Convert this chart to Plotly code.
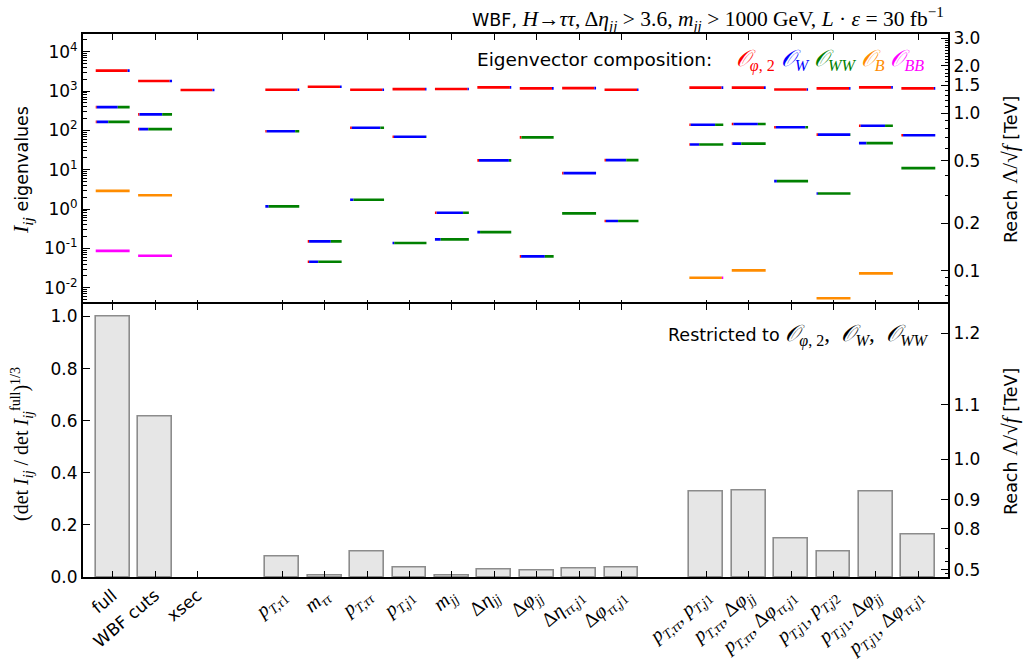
import math
import plotly.graph_objects as go

# ---------------- data ----------------
SERIF = "Liberation Serif"

def m(s, size=20):
    return f"<span style=\"font-family:'{SERIF}';font-size:{size}px\">{s}</span>"

group_labels = [
    ["full", "WBF cuts", "xsec"],
    [m("<i>p</i><sub><i>T,τ</i>1</sub>"), m("<i>m</i><sub><i>ττ</i></sub>"), m("<i>p</i><sub><i>T,ττ</i></sub>"),
     m("<i>p</i><sub><i>T,j</i>1</sub>"), m("<i>m</i><sub><i>jj</i></sub>"), m("Δ<i>η</i><sub><i>jj</i></sub>"),
     m("Δ<i>φ</i><sub><i>jj</i></sub>"), m("Δ<i>η</i><sub><i>ττ,j</i>1</sub>"), m("Δ<i>φ</i><sub><i>ττ,j</i>1</sub>")],
    [m("<i>p</i><sub><i>T,ττ</i></sub>, <i>p</i><sub><i>T,j</i>1</sub>"),
     m("<i>p</i><sub><i>T,ττ</i></sub>, Δ<i>φ</i><sub><i>jj</i></sub>"),
     m("<i>p</i><sub><i>T,ττ</i></sub>, Δ<i>φ</i><sub><i>ττ,j</i>1</sub>"),
     m("<i>p</i><sub><i>T,j</i>1</sub>, <i>p</i><sub><i>T,j</i>2</sub>"),
     m("<i>p</i><sub><i>T,j</i>1</sub>, Δ<i>φ</i><sub><i>jj</i></sub>"),
     m("<i>p</i><sub><i>T,j</i>1</sub>, Δ<i>φ</i><sub><i>ττ,j</i>1</sub>")],
]

# eigenvalues of I_ij per setup
eigenvalues = [
    [3300, 390, 165, 2.9, 0.087],
    [1800, 255, 108, 2.25, 0.065],
    [1060],
    [1080, 95, 1.17],
    [1290, 0.151, 0.0458],
    [1080, 117, 1.73],
    [1120, 69, 0.137],
    [1130, 0.81, 0.17],
    [1240, 17.3, 0.26],
    [1170, 66.5, 0.0627],
    [1190, 8.2, 0.78],
    [1080, 17.6, 0.50],
    [1220, 139, 44, 0.018],
    [1220, 145, 46, 0.0277],
    [1100, 120, 5.15, 0.0036],
    [1170, 78, 2.5, 0.0054],
    [1240, 131, 47.5, 0.0232],
    [1170, 75, 11.0],
]

# eigenvector composition (O_phi2, O_W, O_WW, O_B, O_BB)
compositions = [
    [(0.94, 0.06, 0, 0, 0), (0.03, 0.62, 0.35, 0, 0), (0.03, 0.34, 0.63, 0, 0), (0, 0, 0, 1, 0), (0, 0, 0, 0, 1)],
    [(0.93, 0.07, 0, 0, 0), (0.04, 0.67, 0.29, 0, 0), (0.03, 0.27, 0.70, 0, 0), (0, 0, 0, 1, 0), (0, 0, 0, 0, 1)],
    [(0.94, 0.06, 0, 0, 0)],
    [(0.95, 0.05, 0, 0, 0), (0.04, 0.84, 0.12, 0, 0), (0, 0.10, 0.90, 0, 0)],
    [(0.95, 0.05, 0, 0, 0), (0.04, 0.64, 0.32, 0, 0), (0.04, 0.27, 0.69, 0, 0)],
    [(0.95, 0.05, 0, 0, 0), (0.05, 0.84, 0.11, 0, 0), (0, 0.10, 0.90, 0, 0)],
    [(0.96, 0.04, 0, 0, 0), (0.04, 0.95, 0.01, 0, 0), (0, 0.05, 0.95, 0, 0)],
    [(0.96, 0.04, 0, 0, 0), (0.05, 0.78, 0.17, 0, 0), (0, 0.17, 0.83, 0, 0)],
    [(0.96, 0.04, 0, 0, 0), (0.05, 0.88, 0.07, 0, 0), (0, 0.08, 0.92, 0, 0)],
    [(0.95, 0.05, 0, 0, 0), (0.05, 0, 0.95, 0, 0), (0.04, 0.70, 0.26, 0, 0)],
    [(0.95, 0.05, 0, 0, 0), (0.04, 0.96, 0, 0, 0), (0, 0, 1, 0, 0)],
    [(0.96, 0.04, 0, 0, 0), (0.04, 0.60, 0.36, 0, 0), (0.04, 0.36, 0.60, 0, 0)],
    [(0.95, 0.05, 0, 0, 0), (0.04, 0.72, 0.24, 0, 0), (0.02, 0.27, 0.71, 0, 0), (0, 0, 0, 0.96, 0.04)],
    [(0.95, 0.05, 0, 0, 0), (0.05, 0.72, 0.23, 0, 0), (0.02, 0.26, 0.72, 0, 0), (0, 0, 0, 1, 0)],
    [(0.96, 0.04, 0, 0, 0), (0.05, 0.87, 0.08, 0, 0), (0, 0.08, 0.92, 0, 0), (0, 0, 0, 1, 0)],
    [(0.96, 0.04, 0, 0, 0), (0.04, 0.95, 0.01, 0, 0), (0, 0.04, 0.96, 0, 0), (0, 0, 0, 1, 0)],
    [(0.95, 0.05, 0, 0, 0), (0.05, 0.72, 0.23, 0, 0), (0, 0.22, 0.78, 0, 0), (0, 0, 0, 1, 0)],
    [(0.96, 0.04, 0, 0, 0), (0.05, 0.95, 0, 0, 0), (0, 0, 1, 0, 0)],
]

# (det I_ij / det I_ij^full)^(1/3), restricted to O_phi2, O_W, O_WW
det_ratio = [1.0, 0.617, None,
             0.080, 0.004, 0.099, 0.035, 0.006, 0.028, 0.026, 0.031, 0.035,
             0.329, 0.333, 0.146, 0.099, 0.328, 0.163]

op_colors = ["#ff0000", "#0000ff", "#008000", "#ff8c00", "#ff00ff"]
v_higgs = 0.246          # TeV, Reach = v * I^(1/4)
reach_full = 1.22        # TeV, reach for the full restricted information

top_reach_ticks = [0.1, 0.2, 0.5, 1.0, 1.5, 2.0, 3.0]
bot_reach_ticks = [0.5, 0.8, 0.9, 1.0, 1.1, 1.2]

# ---------------- layout helpers ----------------
positions, labels = [], []
p = 0
for g in group_labels:
    for lab in g:
        positions.append(p)
        labels.append(lab)
        p += 1
    p += 1

W, H = 1023, 666
ML, MR, MT, MB = 83, 75, 34, 89
PW, PH = W - ML - MR, H - MT - MB

def px(x):
    return (x - ML) / PW

def py(y):
    return (H - MB - y) / PH

ylog_range = [-2.45, 4.45]
half = 0.4
split = 0.5
overlap = 2.0 / PH

fig = go.Figure()

# eigenvalue segments
for k, col in enumerate(op_colors):
    xs, ys = [], []
    for pos, evs, comps in zip(positions, eigenvalues, compositions):
        for ev, comp in zip(evs, comps):
            tot = sum(comp)
            left = pos - half
            for j, c in enumerate(comp):
                w = 2 * half * c / tot
                if j == k and c > 0:
                    xs += [left, left + w, None]
                    ys += [ev, ev, None]
                left += w
    fig.add_trace(go.Scatter(x=xs, y=ys, mode="lines", line=dict(color=col, width=2.6),
                             xaxis="x", yaxis="y", showlegend=False, hoverinfo="skip"))

# bars
fig.add_trace(go.Bar(x=positions, y=det_ratio, width=0.8,
                     marker=dict(color="#e6e6e6", line=dict(color="#8c8c8c", width=1.6)),
                     xaxis="x2", yaxis="y2", showlegend=False, hoverinfo="skip"))

# dummies for right axes
fig.add_trace(go.Scatter(x=[None], y=[None], xaxis="x", yaxis="y3", showlegend=False))
fig.add_trace(go.Scatter(x=[None], y=[None], xaxis="x2", yaxis="y4", showlegend=False))

tickfont = dict(family="DejaVu Sans", size=17, color="black")
axline = dict(showline=True, linecolor="black", linewidth=2, ticks="inside",
              tickcolor="black", tickwidth=1.3, showgrid=False, zeroline=False,
              automargin=False)
xr = [-0.7, 19.7]

top_minor = [k * 10 ** e for e in range(-3, 5) for k in range(2, 10)]
top_reach_minor = [round(0.01 * i, 2) for i in range(6, 10)] + \
                  [round(0.1 * i, 1) for i in range(3, 10) if i != 5] + \
                  [round(0.1 * i, 1) for i in range(11, 30) if i not in (15, 20)]
bot_reach_minor = [0.3, 0.4, 0.6, 0.7]

fig.update_layout(
    width=W, height=H,
    margin=dict(l=ML, r=MR, t=MT, b=MB, autoexpand=False),
    paper_bgcolor="white", plot_bgcolor="white",
    font=dict(family="DejaVu Sans", size=17, color="black"),
    bargap=0,
    xaxis=dict(domain=[0, 1], anchor="y", range=xr, tickmode="array", tickvals=positions,
               showticklabels=False, mirror="ticks", ticklen=6, **axline),
    yaxis=dict(domain=[split, 1], anchor="x", type="log", range=ylog_range, tickmode="array",
               tickvals=[10 ** e for e in range(-2, 5)],
               ticktext=[f"10<sup>{e}</sup>" for e in range(-2, 5)],
               ticklen=7, tickfont=tickfont,
               minor=dict(tickmode="array", tickvals=top_minor, ticks="inside", ticklen=3.5,
                          tickcolor="black", tickwidth=1),
               **axline),
    yaxis3=dict(overlaying="y", side="right", anchor="x", type="log",
                range=[r / 4 + math.log10(v_higgs) for r in ylog_range],
                tickmode="array", tickvals=top_reach_ticks,
                ticktext=[f"{t:.1f}" for t in top_reach_ticks], ticklen=7, tickfont=tickfont,
                minor=dict(tickmode="array", tickvals=top_reach_minor, ticks="inside", ticklen=3.5,
                           tickcolor="black", tickwidth=1),
                **axline),
    xaxis2=dict(domain=[0, 1], anchor="y2", matches="x", range=xr, tickmode="array",
                tickvals=positions, ticktext=labels, tickangle=-40, ticklen=6,
                mirror="ticks", tickfont=tickfont, **axline),
    yaxis2=dict(domain=[0, split + overlap], anchor="x2", range=[0, 1.05], tickmode="array",
                tickvals=[0, 0.2, 0.4, 0.6, 0.8, 1.0],
                ticktext=["0.0", "0.2", "0.4", "0.6", "0.8", "1.0"], ticklen=7,
                tickfont=tickfont, **axline),
    yaxis4=dict(overlaying="y2", side="right", anchor="x2", range=[0, 1.05], tickmode="array",
                tickvals=[(r / reach_full) ** 4 for r in bot_reach_ticks],
                ticktext=[f"{r:.1f}" for r in bot_reach_ticks], ticklen=7, tickfont=tickfont,
                minor=dict(tickmode="array", tickvals=[(r / reach_full) ** 4 for r in bot_reach_minor],
                           ticks="inside", ticklen=3.5, tickcolor="black", tickwidth=1),
                **axline),
)

ann = []
# title
ann.append(dict(text="WBF, " + m("<i>H</i>→<i>ττ</i>, Δ<i>η</i><sub><i>jj</i></sub> > 3.6, "
                                 "<i>m</i><sub><i>jj</i></sub> > 1000 GeV, <i>L</i> · <i>ε</i> = 30 fb<sup>−1</sup>", 21.5),
                x=px(946), y=py(19), xanchor="right", yanchor="middle"))
# legend text
ops = [("<i>𝒪</i><sub><i>φ</i>, 2</sub>", op_colors[0]), ("<i>𝒪</i><sub><i>W</i></sub>", op_colors[1]),
       ("<i>𝒪</i><sub><i>WW</i></sub>", op_colors[2]), ("<i>𝒪</i><sub><i>B</i></sub>", op_colors[3]),
       ("<i>𝒪</i><sub><i>BB</i></sub>", op_colors[4])]
leg = "Eigenvector composition:    " + " ".join(
    f"<span style=\"color:{c};font-family:'{SERIF}';font-size:23px\">{t}</span>" for t, c in ops)
ann.append(dict(text=leg, x=px(926), y=py(61), xanchor="right", yanchor="middle",
                font=dict(size=18.5, color="black")))
ann.append(dict(text="Restricted to " + m("<i>𝒪</i><sub><i>φ</i>, 2</sub>,  <i>𝒪</i><sub><i>W</i></sub>,  <i>𝒪</i><sub><i>WW</i></sub>", 23),
                x=px(931), y=py(335), xanchor="right", yanchor="middle"))
# axis titles
ann.append(dict(text=m("<i>I</i><sub><i>ij</i></sub>", 22) + " eigenvalues", x=px(22), y=py(170),
                textangle=-90, xanchor="center", yanchor="middle"))
ann.append(dict(text=m("(det <i>I</i><sub><i>ij</i></sub> / det <i>I</i><sub><i>ij</i></sub><sup>full</sup>)<sup>1/3</sup>", 20),
                x=px(22), y=py(444), textangle=-90, xanchor="center", yanchor="middle"))
for yc in (170, 442):
    ann.append(dict(text="Reach " + m("Λ/√<i>f</i>", 21) + " [TeV]",
                    x=px(1010), y=py(yc), textangle=-90, xanchor="center", yanchor="middle"))
for a in ann:
    a.update(xref="paper", yref="paper", showarrow=False)
    if "font" not in a:
        a["font"] = dict(size=17.5, color="black")
fig.update_layout(annotations=ann)

fig.write_html("out.html")
